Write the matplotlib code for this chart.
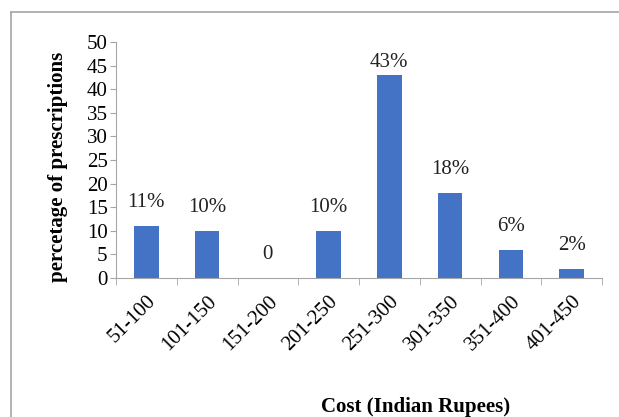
import matplotlib
matplotlib.use('Agg')
import matplotlib.pyplot as plt
import numpy as np

# cost bands and share of prescriptions (%)
cost_bands = ['51-100', '101-150', '151-200', '201-250', '251-300', '301-350', '351-400', '401-450']
percent = [11, 10, 0, 10, 43, 18, 6, 2]
bar_labels = ['11%', '10%', '0', '10%', '43%', '18%', '6%', '2%']

plt.rcParams['font.family'] = 'Liberation Serif'

fig = plt.figure(figsize=(6.19, 4.17), dpi=100)
ax = fig.add_axes([116/619, 139/417, 486/619, 236/417])

# outer chart border (chart area), cut by the picture edge
border = '#a6a6a6'
fig.add_artist(plt.Line2D([11/619, 1.0], [1 - 12/417, 1 - 12/417], color=border, lw=1.2))
fig.add_artist(plt.Line2D([11/619, 11/619], [0.0, 1 - 12/417], color=border, lw=1.2))

x = np.arange(len(cost_bands))
ax.bar(x, percent, width=0.4, color='#4472C4')

for xi, v, lab in zip(x, percent, bar_labels):
    y = v + 4.9 if v + 4.9 < 47 else v + 2.6
    ax.text(xi, y, lab, ha='center', va='center', fontsize=15, color='#222222')

ax.set_xlim(-0.5, len(cost_bands) - 0.5)
ax.set_ylim(0, 50)
ax.set_yticks(range(0, 51, 5))
ax.tick_params(axis='y', labelsize=15, length=4, color=border, pad=2)

ax.set_xticks(x)
ax.set_xticklabels(cost_bands, rotation=45, ha='right', rotation_mode='anchor', fontsize=15)
ax.tick_params(axis='x', which='major', length=0, pad=10)
ax.set_xticks(np.arange(-0.5, len(cost_bands)), minor=True)
ax.tick_params(axis='x', which='minor', length=5, color=border)

for s in ['top', 'right']:
    ax.spines[s].set_visible(False)
for s in ['left', 'bottom']:
    ax.spines[s].set_color(border)

ax.set_ylabel('percetage of prescriptions', fontsize=15, fontweight='bold')
ax.yaxis.set_label_coords(-0.099, 0.47)
fig.text(416/619, 0, 'Cost (Indian Rupees)', ha='center', va='bottom',
         fontsize=15, fontweight='bold')

fig.savefig('out.png', dpi=100)
